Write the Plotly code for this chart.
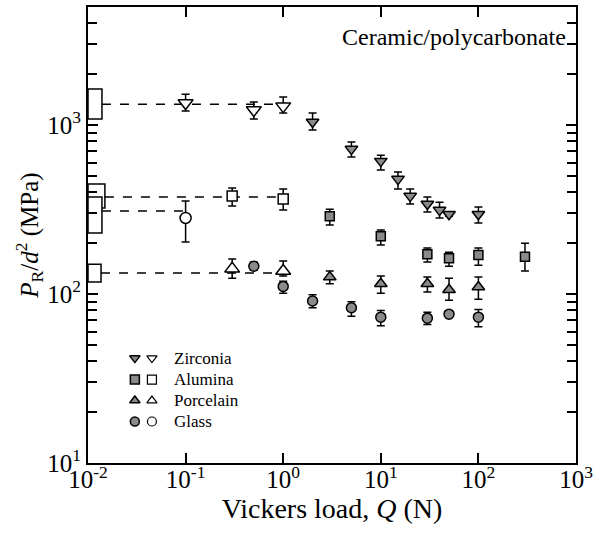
import plotly.graph_objects as go

# ---------------- data ----------------
# Zirconia
zr_open_q = [0.1, 0.5, 1.0]
zr_open_v = [1350, 1228, 1295]
zr_open_hi = [1524, 1368, 1465]
zr_open_lo = [1211, 1086, 1178]

zr_fill_q = [2, 5, 10, 15, 20, 30, 40, 50, 100]
zr_fill_v = [1042, 721, 612, 479, 380, 341, 314, 297, 297]
zr_fill_hi = [1178, 793, 664, 527, 418, 375, 350, 305, 327]
zr_fill_lo = [934, 647, 542, 418, 341, 306, 282, 289, 263]

# Alumina
al_open_q = [0.3, 1.0]
al_open_v = [380, 365]
al_open_hi = [424, 418]
al_open_lo = [332, 314]

al_fill_q = [3, 10, 30, 50, 100, 300]
al_fill_v = [289, 220, 172, 163, 170, 166]
al_fill_hi = [318, 239, 187, 177, 187, 200]
al_fill_lo = [256, 195, 155, 146, 148, 137]

# Porcelain
po_open_q = [0.3, 1.0]
po_open_v = [141, 137]
po_open_hi = [161, 157]
po_open_lo = [124, 128]

po_fill_q = [3, 10, 30, 50, 100]
po_fill_v = [126, 115, 115, 106, 110]
po_fill_hi = [137, 128, 126, 124, 126]
po_fill_lo = [115, 101, 103, 92, 93]

# Glass
gl_open_q = [0.1]
gl_open_v = [282]
gl_open_hi = [355]
gl_open_lo = [203]

gl_fill_q = [0.5, 1, 2, 5, 10, 30, 50, 100]
gl_fill_v = [146, 111, 91, 83, 73, 72, 76, 73]
gl_fill_hi = [155, 119, 99, 90, 80, 78, 78, 81]
gl_fill_lo = [139, 101, 83, 74, 65, 66, 74, 64]

# Dashed reference levels (value, end load) and rectangles at the left axis
ref_names = ["Zirconia", "Alumina", "Glass", "Porcelain"]
ref_level = [1330, 375, 310, 133]
ref_start = [0.0139, 0.0149, 0.0139, 0.0136]
ref_end = [1.0, 1.0, 0.1, 1.0]
rect_x0 = [0.01, 0.01, 0.01, 0.01]
rect_x1 = [0.0139, 0.0149, 0.0139, 0.0136]
rect_ylo = [1085, 323, 230, 118]
rect_yhi = [1633, 448, 375, 150]

x_tickvals = [0.01, 0.1, 1, 10, 100, 1000]
x_ticktext = ["10<sup>-2</sup>", "10<sup>-1</sup>", "10<sup>0</sup>",
              "10<sup>1</sup>", "10<sup>2</sup>", "10<sup>3</sup>"]
y_tickvals = [10, 100, 1000]
y_ticktext = ["10<sup>1</sup>", "10<sup>2</sup>", "10<sup>3</sup>"]
y_minor = [m * d for d in (10, 100, 1000) for m in range(2, 10) if m * d <= 5000]

legend_labels = ["Zirconia", "Alumina", "Porcelain", "Glass"]
legend_symbols = ["triangle-down", "square", "triangle-up", "circle"]

FILL = "#8a8a8a"
FONT = "Liberation Serif"

fig = go.Figure()

# rectangles
for i in range(len(ref_names)):
    fig.add_trace(go.Scatter(
        x=[rect_x0[i], rect_x1[i], rect_x1[i], rect_x0[i], rect_x0[i]],
        y=[rect_ylo[i], rect_ylo[i], rect_yhi[i], rect_yhi[i], rect_ylo[i]],
        mode="lines", line=dict(color="black", width=1.5),
        fill="toself", fillcolor="white", showlegend=False, hoverinfo="skip"))
# dashed lines
for i in range(len(ref_names)):
    fig.add_trace(go.Scatter(
        x=[ref_start[i], ref_end[i]], y=[ref_level[i], ref_level[i]],
        mode="lines", line=dict(color="black", width=1.5, dash="dash"),
        showlegend=False, hoverinfo="skip"))


def add_series(q, v, hi, lo, symbol, filled, size):
    fig.add_trace(go.Scatter(
        x=q, y=v, mode="markers",
        marker=dict(symbol=symbol, size=size,
                    color=FILL if filled else "white",
                    line=dict(color="black", width=1.5)),
        error_y=dict(type="data", symmetric=False,
                     array=[h - a for h, a in zip(hi, v)],
                     arrayminus=[a - l for a, l in zip(v, lo)],
                     color="black", thickness=1.5, width=4),
        showlegend=False))


add_series(zr_open_q, zr_open_v, zr_open_hi, zr_open_lo, "triangle-down", False, 13)
add_series(zr_fill_q, zr_fill_v, zr_fill_hi, zr_fill_lo, "triangle-down", True, 11)
add_series(al_open_q, al_open_v, al_open_hi, al_open_lo, "square", False, 10)
add_series(al_fill_q, al_fill_v, al_fill_hi, al_fill_lo, "square", True, 9)
add_series(po_open_q, po_open_v, po_open_hi, po_open_lo, "triangle-up", False, 13)
add_series(po_fill_q, po_fill_v, po_fill_hi, po_fill_lo, "triangle-up", True, 11)
add_series(gl_open_q, gl_open_v, gl_open_hi, gl_open_lo, "circle", False, 11)
add_series(gl_fill_q, gl_fill_v, gl_fill_hi, gl_fill_lo, "circle", True, 10)

# custom legend on an overlay axis (0..1 in both directions)
leg_y = [0.230, 0.183, 0.137, 0.091]
for i, lab in enumerate(legend_labels):
    fig.add_trace(go.Scatter(
        x=[0.096], y=[leg_y[i]], xaxis="x2", yaxis="y2", mode="markers",
        marker=dict(symbol=legend_symbols[i], size=9, color=FILL,
                    line=dict(color="black", width=1.5)),
        showlegend=False, hoverinfo="skip"))
    fig.add_trace(go.Scatter(
        x=[0.131], y=[leg_y[i]], xaxis="x2", yaxis="y2", mode="markers",
        marker=dict(symbol=legend_symbols[i], size=9, color="white",
                    line=dict(color="black", width=1.2)),
        showlegend=False, hoverinfo="skip"))
    fig.add_annotation(x=0.172, y=leg_y[i], xref="x2", yref="y2", text=lab,
                       showarrow=False, xanchor="left", yanchor="middle",
                       font=dict(family=FONT, size=17, color="black"))

fig.add_annotation(x=0.984, y=0.934, xref="paper", yref="paper",
                   text="Ceramic/polycarbonate", showarrow=False,
                   xanchor="right", yanchor="middle",
                   font=dict(family=FONT, size=24, color="black"))

axis_common = dict(showline=True, linecolor="black", linewidth=2, mirror="ticks",
                   ticks="inside", tickcolor="black", tickwidth=1.5,
                   showgrid=False, zeroline=False,
                   tickfont=dict(family=FONT, size=25, color="black"))

fig.update_layout(
    width=596, height=533,
    margin=dict(l=88, r=20, t=7, b=70, autoexpand=False),
    paper_bgcolor="white", plot_bgcolor="white",
    xaxis=dict(type="log", range=[-2, 3], tickmode="array",
               tickvals=x_tickvals, ticktext=x_ticktext, ticklen=10,
               ticklabelstandoff=-7,
               title=dict(text="Vickers load, <i>Q</i> (N)",
                          font=dict(family=FONT, size=28, color="black"),
                          standoff=2),
               **axis_common),
    yaxis=dict(type="log", range=[1, 3.699], tickmode="array",
               tickvals=y_tickvals, ticktext=y_ticktext, ticklen=10,
               ticklabelstandoff=0,
               minor=dict(tickmode="array", tickvals=y_minor, ticks="inside",
                          ticklen=9, tickcolor="black", tickwidth=1.5,
                          showgrid=False),
               title=dict(text="<i>P</i><sub>R</sub>/<i>d</i><sup>2</sup> (MPa)",
                          font=dict(family=FONT, size=25, color="black"),
                          standoff=2),
               **axis_common),
    xaxis2=dict(overlaying="x", range=[0, 1], visible=False, domain=[0, 1]),
    yaxis2=dict(overlaying="y", range=[0, 1], visible=False, domain=[0, 1]),
    showlegend=False,
)

fig.write_html("out.html")
